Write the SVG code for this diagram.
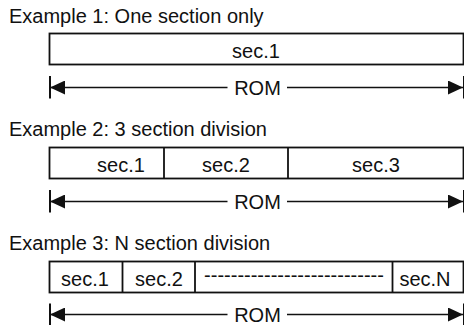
<svg xmlns="http://www.w3.org/2000/svg" width="464" height="325" viewBox="0 0 464 325">
<style>
text{font-family:"Liberation Sans",Arial,sans-serif;font-size:20px;fill:#111}
.c{text-anchor:middle}
.box{fill:#fff;stroke:#111;stroke-width:1.8}
.div{stroke:#111;stroke-width:1.8}
.arr{stroke:#111;stroke-width:1.6;fill:none}
.tick{stroke:#111;stroke-width:2}
</style>
<defs>
<marker id="ah" markerUnits="userSpaceOnUse" markerWidth="16" markerHeight="14" refX="15" refY="7" orient="auto-start-reverse" viewBox="0 0 16 14">
<path d="M0,0 L15,7 L0,14 z" fill="#111"/>
</marker>
</defs>
<rect width="464" height="325" fill="#fff"/>

<g id="example1">
<text x="9" y="22.5">Example 1: One section only</text>
<g id="ex1-rom"><rect class="box" x="49.5" y="33.5" width="414" height="31"/>
<text class="c" x="256" y="58">sec.1</text></g>
</g>

<g id="example2">
<text x="9" y="136">Example 2: 3 section division</text>
<g id="ex2-rom"><rect class="box" x="49.5" y="147.5" width="414" height="31"/>
<line class="div" x1="164" y1="147.5" x2="164" y2="178.5"/>
<line class="div" x1="288" y1="147.5" x2="288" y2="178.5"/>
<text class="c" x="121" y="172">sec.1</text>
<text class="c" x="226" y="172">sec.2</text>
<text class="c" x="376" y="172">sec.3</text></g>
</g>

<g id="example3">
<text x="9" y="250">Example 3: N section division</text>
<g id="ex3-rom"><rect class="box" x="49.5" y="261.5" width="414" height="31"/>
<line class="div" x1="122.5" y1="261.5" x2="122.5" y2="292.5"/>
<line class="div" x1="195" y1="261.5" x2="195" y2="292.5"/>
<line class="div" x1="392.5" y1="261.5" x2="392.5" y2="292.5"/>
<text class="c" x="85" y="286">sec.1</text>
<text class="c" x="159" y="286">sec.2</text>
<text class="c" x="294" y="282">---------------------------</text>
<text class="c" x="425" y="286">sec.N</text></g>
</g>

<g id="connectors">
<line class="tick" x1="50" y1="76" x2="50" y2="98.5"/>
<line class="tick" x1="464" y1="76" x2="464" y2="98.5"/>
<line class="arr" x1="50" y1="87.5" x2="227.5" y2="87.5" marker-start="url(#ah)"/>
<line class="arr" x1="287" y1="87.5" x2="463" y2="87.5" marker-end="url(#ah)"/>
<text class="c" x="257.5" y="95">ROM</text>

<line class="tick" x1="50" y1="190" x2="50" y2="212.5"/>
<line class="tick" x1="464" y1="190" x2="464" y2="212.5"/>
<line class="arr" x1="50" y1="201.5" x2="227.5" y2="201.5" marker-start="url(#ah)"/>
<line class="arr" x1="287" y1="201.5" x2="463" y2="201.5" marker-end="url(#ah)"/>
<text class="c" x="257.5" y="209">ROM</text>

<line class="tick" x1="50" y1="303.5" x2="50" y2="325"/>
<line class="tick" x1="464" y1="303.5" x2="464" y2="325"/>
<line class="arr" x1="50" y1="314.5" x2="227.5" y2="314.5" marker-start="url(#ah)"/>
<line class="arr" x1="287" y1="314.5" x2="463" y2="314.5" marker-end="url(#ah)"/>
<text class="c" x="257.5" y="322">ROM</text>
</g>
</svg>
